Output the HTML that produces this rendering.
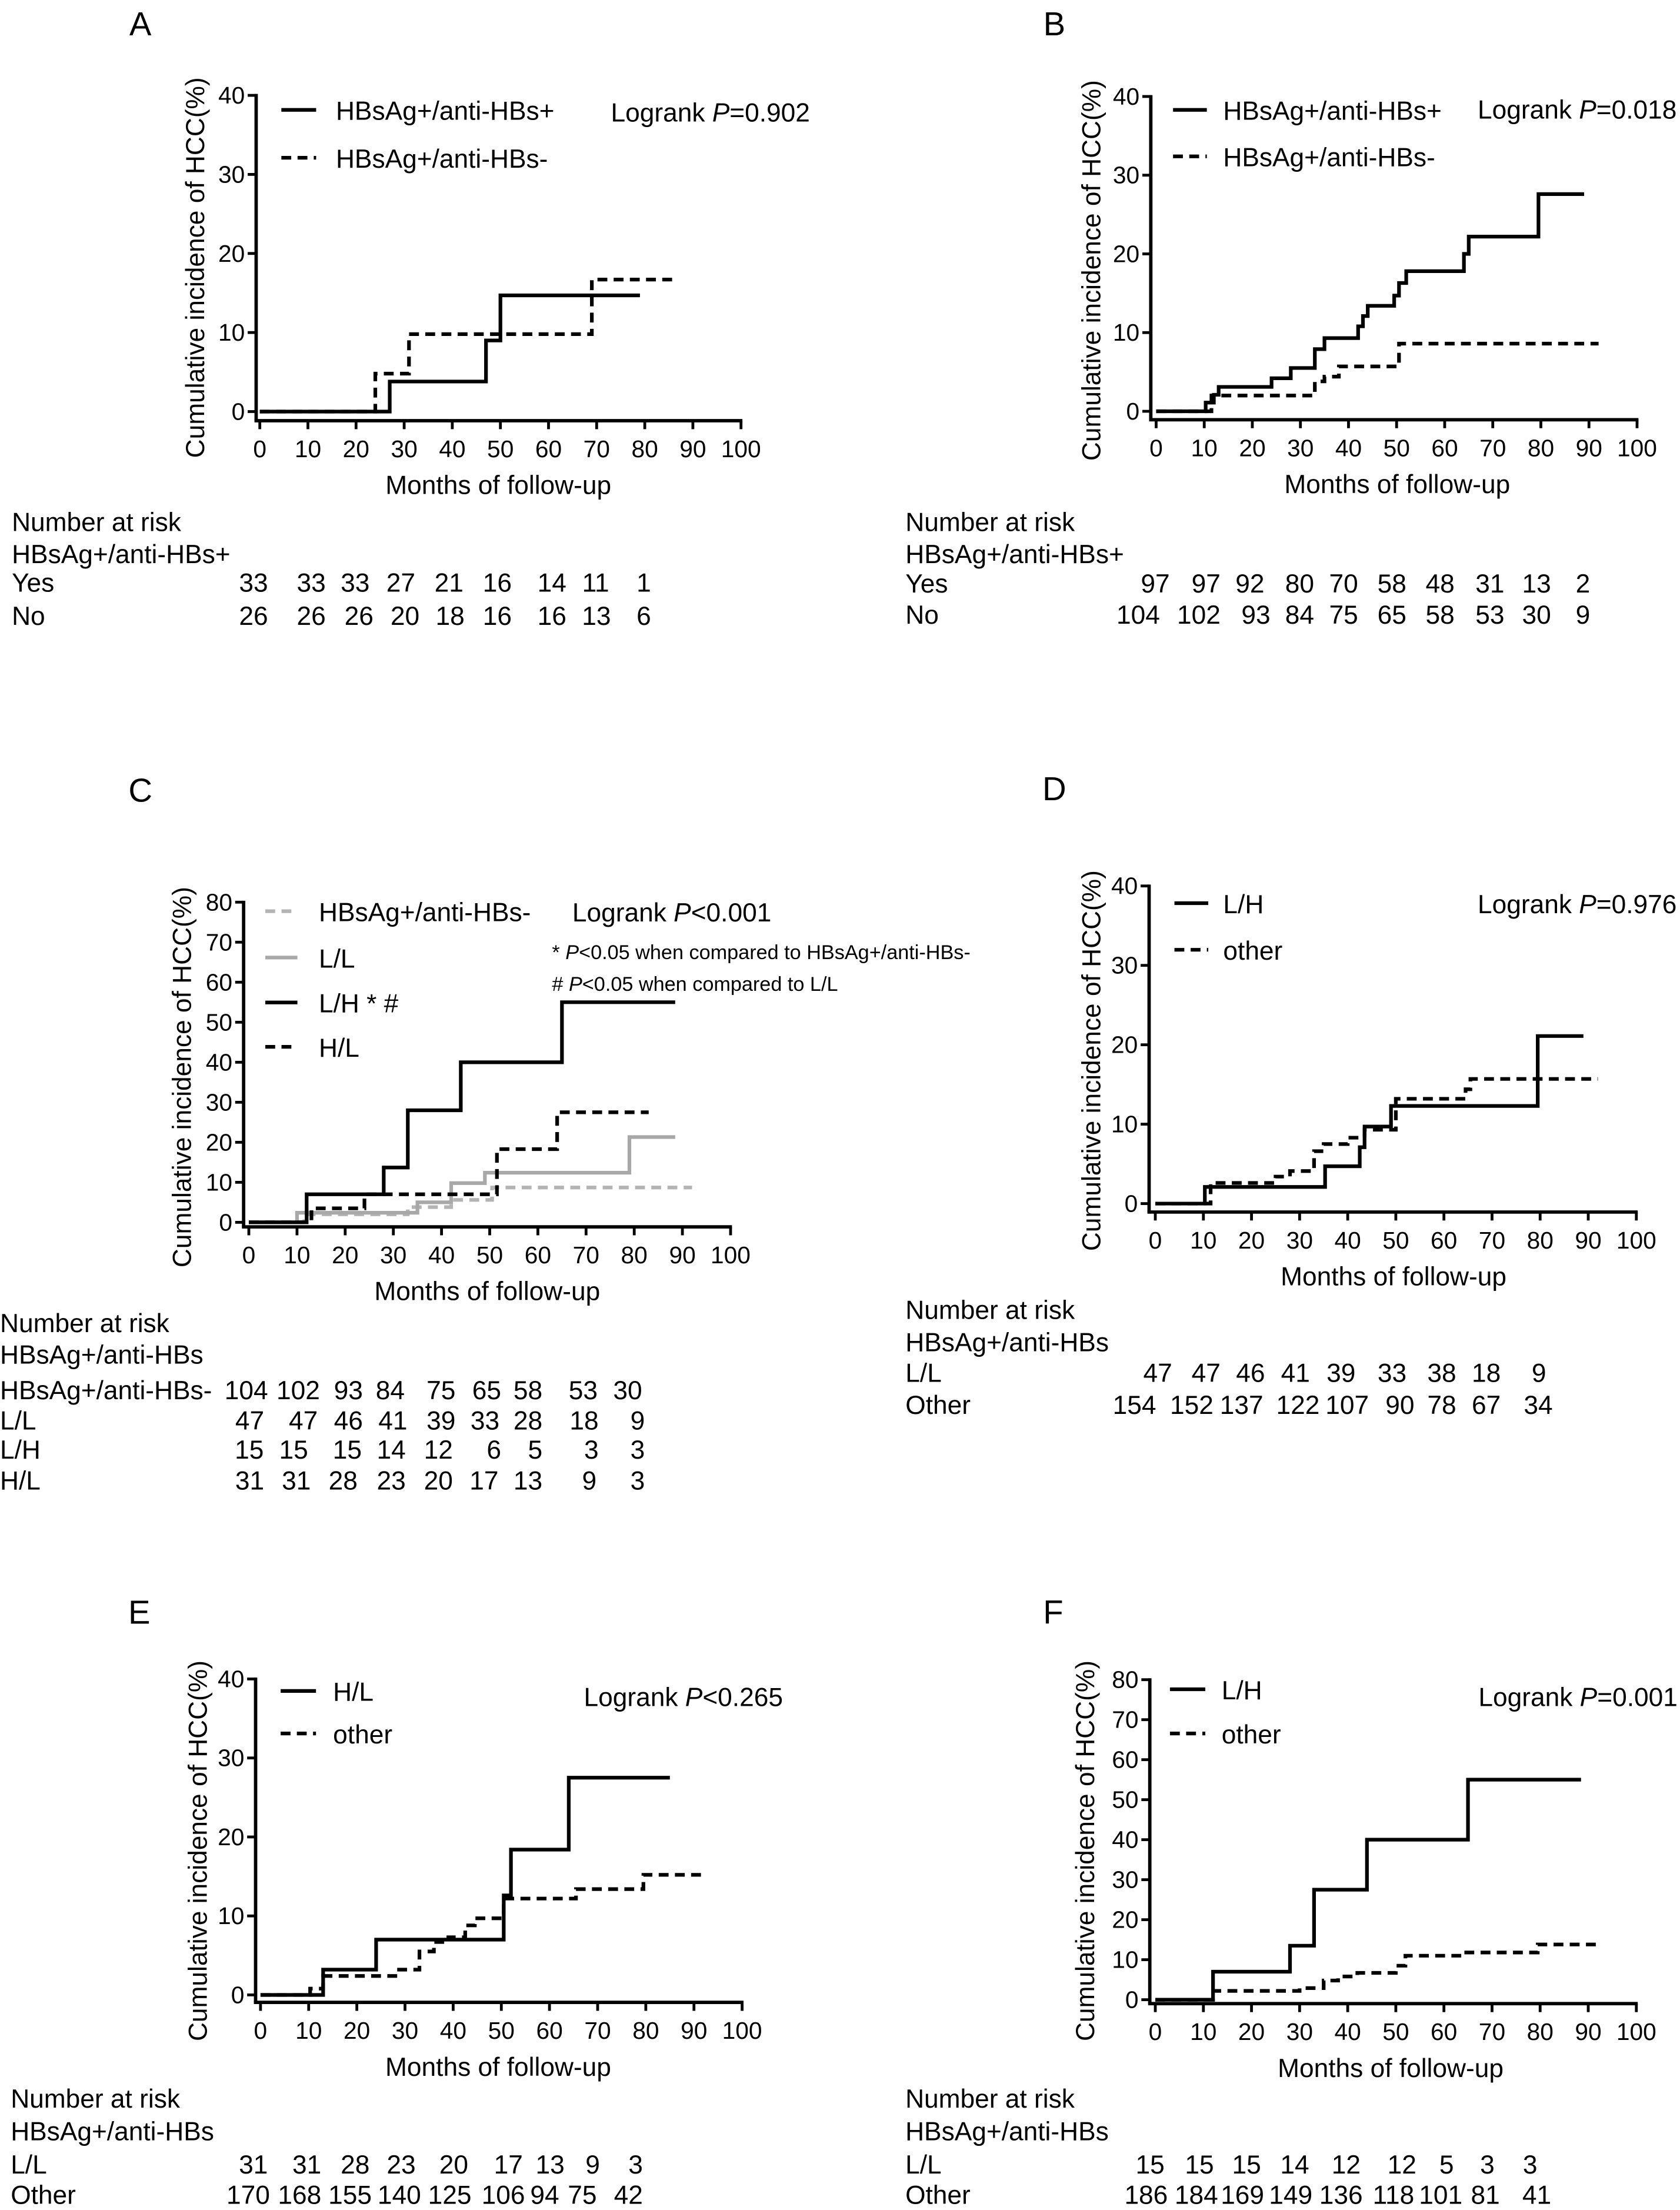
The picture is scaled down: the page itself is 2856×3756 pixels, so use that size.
<!DOCTYPE html>
<html>
<head>
<meta charset="utf-8">
<style>
html,body{margin:0;padding:0;background:#fff;}
svg{display:block;}
text{font-family:"Liberation Sans",Arial,sans-serif;fill:#000;}
</style>
</head>
<body>
<svg id="fig" xmlns="http://www.w3.org/2000/svg" width="2856" height="3756" viewBox="0 0 1193 1569" preserveAspectRatio="none"></svg>
<script>
// ---------- shared axis ticks ----------
const xTickValues = [0,10,20,30,40,50,60,70,80,90,100];
const yTicks40 = [0,10,20,30,40];
const yTicks80 = [0,10,20,30,40,50,60,70,80];
const riskHeader2 = ["HBsAg+/anti-HBs+","HBsAg+/anti-HBs+","HBsAg+/anti-HBs","HBsAg+/anti-HBs","HBsAg+/anti-HBs","HBsAg+/anti-HBs"];

// ---------- Panel A ----------
const A_yes_months = [0,27,47,50,79];
const A_yes_inc    = [0,3.8,9,14.7,14.7];
const A_no_months  = [0,24,31,69,86];
const A_no_inc     = [0,4.8,9.8,16.7,16.7];
const A_risk_yes = [33,33,33,27,21,16,14,11,1];
const A_risk_no  = [26,26,26,20,18,16,16,13,6];

// ---------- Panel B ----------
const B_yes_months = [0,10.3,12,13,24,28,33,35,42,43,44,49.5,50.5,52,64,65,79.5,89];
const B_yes_inc    = [0,1.1,2.1,3.1,4.2,5.5,7.9,9.3,10.8,12.1,13.4,14.7,16.3,17.8,20,22.2,27.6,27.6];
const B_no_months  = [0,11.5,33,35,38,50.5,92];
const B_no_inc     = [0,2.0,3.8,4.4,5.7,8.6,8.6];
const B_risk_yes = [97,97,92,80,70,58,48,31,13,2];
const B_risk_no  = [104,102,93,84,75,65,58,53,30,9];

// ---------- Panel C ----------
const C_neg_months = [0,11.5,33,42,50.5,92];
const C_neg_inc    = [0,2,3.8,5.6,8.7,8.7];
const C_ll_months  = [0,10,35,42,49,79,88.5];
const C_ll_inc     = [0,2.4,5,9.8,12.4,21.3,21.3];
const C_lh_months  = [0,12,28,33,44,65,88.5];
const C_lh_inc     = [0,7,13.7,28,40,55,55];
const C_hl_months  = [0,13,24,51.5,64,83];
const C_hl_inc     = [0,3.5,7,18.3,27.5,27.5];
const C_risk_neg = [104,102,93,84,75,65,58,53,30];
const C_risk_ll  = [47,47,46,41,39,33,28,18,9];
const C_risk_lh  = [15,15,15,14,12,6,5,3,3];
const C_risk_hl  = [31,31,28,23,20,17,13,9,3];

// ---------- Panel D ----------
const D_lh_months = [0,10.3,35.3,42.5,43.5,49,79.5,89];
const D_lh_inc    = [0,2.1,4.7,7.1,9.7,12.3,21.1,21.1];
const D_ot_months = [0,11.5,25,28,33,35,40,43.5,50,64.5,65.5,92];
const D_ot_inc    = [0,2.6,3.4,4.1,6.6,7.5,8.3,9.3,13.2,14.4,15.7,15.7];
const D_risk_ll = [47,47,46,41,39,33,38,18,9];
const D_risk_ot = [154,152,137,122,107,90,78,67,34];

// ---------- Panel E ----------
const E_hl_months = [0,13,24,50.5,52,64,85];
const E_hl_inc    = [0,3.2,7,12.6,18.4,27.5,27.5];
const E_ot_months = [0,10.3,13,28,33,36,39,42.5,44.5,50.5,65.5,79.5,92];
const E_ot_inc    = [0,0.8,2.4,3.2,5.5,6.7,7.3,8.8,9.7,12.2,13.4,15.2,15.2];
const E_risk_ll = [31,31,28,23,20,17,13,9,3];
const E_risk_ot = [170,168,155,140,125,106,94,75,42];

// ---------- Panel F ----------
const F_lh_months = [0,12,28,33,44,65,88.5];
const F_lh_inc    = [0,7,13.5,27.5,40,55,55];
const F_ot_months = [0,12,30,35,38,42,50,52,64,79.5,92];
const F_ot_inc    = [0,2.2,2.9,4.8,5.8,6.7,8.5,11,11.8,13.8,13.8];
const F_risk_ll = [15,15,15,14,12,12,5,3,3];
const F_risk_ot = [186,184,169,149,136,118,101,81,41];

const NS = "http://www.w3.org/2000/svg";
const svg = document.getElementById("fig");

function el(tag, attrs, parent){
  const e = document.createElementNS(NS, tag);
  for (const k in attrs) e.setAttribute(k, attrs[k]);
  (parent || svg).appendChild(e);
  return e;
}
function txt(str, x, y, size, anchor, parent, extra){
  const t = el("text", Object.assign({x:x, y:y, "font-size":size, "text-anchor":anchor||"start", "dominant-baseline":"central"}, extra||{}), parent);
  t.textContent = str;
  return t;
}

const STYLES = {
  solid:  {stroke:"#000", dash:null},
  dashed: {stroke:"#000", dash:"7 4.5"},
  gsolid: {stroke:"#a8a8a8", dash:null},
  gdash:  {stroke:"#b4b4b4", dash:"7 4.5"}
};

function panel(cfg){
  const g = el("g", {});
  
  
  const xs = v => cfg.x0 + (cfg.x100 - cfg.x0) * v / 100;
  const ys = v => cfg.y0 - (cfg.y0 - cfg.yTop) * v / cfg.ymax;

  const letter = txt(cfg.letter, cfg.letterX, cfg.letterY, 23.5, "middle", g);
  
  

  const yAxis = el("line", {x1:cfg.yAx, y1:cfg.yTop-1, x2:cfg.yAx, y2:cfg.xAxY, stroke:"#000", "stroke-width":2.4}, g);
  
  
  const xAxis = el("line", {x1:cfg.yAx-1.2, y1:cfg.xAxY, x2:cfg.x100+1, y2:cfg.xAxY, stroke:"#000", "stroke-width":2.4}, g);
  
  

  cfg.yTicks.forEach(v => {
    const tk = el("line", {x1:cfg.yAx-6, y1:ys(v), x2:cfg.yAx, y2:ys(v), stroke:"#000", "stroke-width":2}, g);
    
    
    const lb = txt(String(v), cfg.yAx-8, ys(v), 17, "end", g);
    
    
  });
  xTickValues.forEach(v => {
    const tk = el("line", {x1:xs(v), y1:cfg.xAxY, x2:xs(v), y2:cfg.xAxY+6, stroke:"#000", "stroke-width":2}, g);
    
    
    const lb = txt(String(v), xs(v), cfg.xAxY+20, 17, "middle", g);
    
    
  });
  const xt = txt("Months of follow-up", cfg.xTitleX, cfg.xAxY+46, 18.5, "middle", g);
  
  
  const yt = txt("Cumulative incidence of HCC(%)", 0, 0, 18.5, "middle", g, {transform:"translate("+cfg.yTitleX+","+cfg.yTitleY+") rotate(-90)"});
  
  

  cfg.series.forEach(s => {
    let d = "M" + xs(s.t[0]).toFixed(2) + " " + ys(s.v[0]).toFixed(2);
    for (let i = 1; i < s.t.length; i++){
      d += " H" + xs(s.t[i]).toFixed(2) + " V" + ys(s.v[i]).toFixed(2);
    }
    const st = STYLES[s.style];
    const p = el("path", {d:d, fill:"none", stroke:st.stroke, "stroke-width":2.6, "stroke-linejoin":"miter"}, g);
    if (st.dash) p.setAttribute("stroke-dasharray", st.dash);
    
    
  });

  cfg.legend.forEach((L, i) => {
    const ly = cfg.legY[i];
    const st = STYLES[L.style];
    const ln = el("line", {x1:cfg.legX1, y1:ly, x2:cfg.legX2, y2:ly, stroke:st.stroke, "stroke-width":2.6}, g);
    if (st.dash) ln.setAttribute("stroke-dasharray", "7 4.5");
    
    
    const lt = txt(L.label, cfg.legTX, ly+1, 18.5, "start", g);
    
    
  });

  const lr = txt("", cfg.lrX, cfg.lrY+1, 18.5, "start", g);
  
  
  const t1 = el("tspan", {}, lr); t1.textContent = "Logrank ";
  const t2 = el("tspan", {"font-style":"italic"}, lr); t2.textContent = "P";
  const t3 = el("tspan", {}, lr); t3.textContent = cfg.lrText;

  const rt = el("g", {}, g);
  
  
  const h1 = txt("Number at risk", cfg.rLeft, cfg.rY[0], 18.5, "start", rt);
  
  
  const h2 = txt(cfg.rHead, cfg.rLeft, cfg.rY[1], 18.5, "start", rt);
  
  
  cfg.rows.forEach((r, i) => {
    const y = cfg.rY[i+2];
    const rl = txt(r.label, cfg.rLeft, y, 18.5, "start", rt);
    
    
    r.vals.forEach((v, j) => {
      const c = txt(String(v), r.right[j], y, 18.5, "end", rt);
      
      
    });
  });
  return g;
}

panel({id:"a", letter:"A", letterX:99.7, letterY:17,
  yAx:181.9, x0:184.5, x100:526.2, y0:292.2, yTop:67.7, ymax:40, xAxY:298.7, yTicks:yTicks40,
  xTitleX:353.9, yTitleX:138.9, yTitleY:190,
  series:[{t:A_yes_months, v:A_yes_inc, style:"solid", name:"curve-anti-hbs-positive"},
          {t:A_no_months, v:A_no_inc, style:"dashed", name:"curve-anti-hbs-negative"}],
  legend:[{label:"HBsAg+/anti-HBs+", style:"solid"},{label:"HBsAg+/anti-HBs-", style:"dashed"}],
  legY:[78,112], legX1:199.8, legX2:224.5, legTX:238.5,
  lrX:433.8, lrY:79, lrText:"=0.902",
  rLeft:8.4, rY:[371,393.8,414,437.6], rHead:riskHeader2[0],
  rows:[{label:"Yes", vals:A_risk_yes, right:[190.3,231.3,262.5,294.9,329.1,363.4,402.2,432.6,462.3]},
        {label:"No",  vals:A_risk_no,  right:[190.3,231.3,265.2,297.9,329.9,363.4,402.2,433.8,462.3]}]
});

panel({id:"b", letter:"B", letterX:748.7, letterY:17,
  yAx:817.2, x0:821, x100:1162.5, y0:292, yTop:68.5, ymax:40, xAxY:298, yTicks:yTicks40,
  xTitleX:992.2, yTitleX:775.3, yTitleY:192,
  series:[{t:B_yes_months, v:B_yes_inc, style:"solid", name:"curve-anti-hbs-positive"},
          {t:B_no_months, v:B_no_inc, style:"dashed", name:"curve-anti-hbs-negative"}],
  legend:[{label:"HBsAg+/anti-HBs+", style:"solid"},{label:"HBsAg+/anti-HBs-", style:"dashed"}],
  legY:[78,111], legX1:833, legX2:857, legTX:868.6,
  lrX:1049.3, lrY:77, lrText:"=0.018",
  rLeft:643, rY:[371,393.8,414.7,436.8], rHead:riskHeader2[1],
  rows:[{label:"Yes", vals:B_risk_yes, right:[830.7,866.7,897.9,933.2,964.4,998.7,1032.9,1068.3,1101.4,1129.2]},
        {label:"No",  vals:B_risk_no,  right:[823.7,866.7,902.1,933.2,964.4,998.7,1032.9,1068.3,1101.4,1129.2]}]
});

panel({id:"c", letter:"C", letterX:99.7, letterY:561,
  yAx:173, x0:176.7, x100:518.8, y0:867.8, yTop:640.5, ymax:80, xAxY:871, yTicks:yTicks80,
  xTitleX:346, yTitleX:129.4, yTitleY:764.7,
  series:[{t:C_neg_months, v:C_neg_inc, style:"gdash", name:"curve-anti-hbs-negative"},
          {t:C_ll_months, v:C_ll_inc, style:"gsolid", name:"curve-l-l"},
          {t:C_hl_months, v:C_hl_inc, style:"dashed", name:"curve-h-l"},
          {t:C_lh_months, v:C_lh_inc, style:"solid", name:"curve-l-h"}],
  legend:[{label:"HBsAg+/anti-HBs-", style:"gdash"},{label:"L/L", style:"gsolid"},
          {label:"L/H * #", style:"solid"},{label:"H/L", style:"dashed"}],
  legY:[646.9,679.8,711.7,743.2], legX1:188.4, legX2:211.2, legTX:226.4,
  lrX:406.4, lrY:646.9, lrText:"<0.001",
  rLeft:0, rY:[939.6,962,987.3,1008.8,1029.6,1051.4], rHead:riskHeader2[2],
  rows:[{label:"HBsAg+/anti-HBs-", vals:C_risk_neg, right:[190.3,227.2,257.7,287.4,323.5,355.9,385.2,424.4,456]},
        {label:"L/L", vals:C_risk_ll, right:[187.6,225.7,257.7,289.3,323.5,354.7,385.2,425.1,457.9]},
        {label:"L/H", vals:C_risk_lh, right:[187.3,218.8,256.9,288.1,321.6,355.9,385.2,425.1,457.9]},
        {label:"H/L", vals:C_risk_hl, right:[187.6,220.7,253.9,288.1,321.6,354,385.2,423.6,457.9]}]
});
const n1 = txt("", 392, 676.3, 14.3, "start");


(function(){ const a=el("tspan",{},n1); a.textContent="* "; const b=el("tspan",{"font-style":"italic"},n1); b.textContent="P"; const c=el("tspan",{},n1); c.textContent="<0.05 when compared to HBsAg+/anti-HBs-"; })();
const n2 = txt("", 392, 698.9, 14.3, "start");


(function(){ const a=el("tspan",{},n2); a.textContent="# "; const b=el("tspan",{"font-style":"italic"},n2); b.textContent="P"; const c=el("tspan",{},n2); c.textContent="<0.05 when compared to L/L"; })();

panel({id:"d", letter:"D", letterX:748.7, letterY:560,
  yAx:816, x0:820.4, x100:1162, y0:854.5, yTop:629, ymax:40, xAxY:860.5, yTicks:yTicks40,
  xTitleX:989.6, yTitleX:775.3, yTitleY:753,
  series:[{t:D_ot_months, v:D_ot_inc, style:"dashed", name:"curve-other"},
          {t:D_lh_months, v:D_lh_inc, style:"solid", name:"curve-l-h"}],
  legend:[{label:"L/H", style:"solid"},{label:"other", style:"dashed"}],
  legY:[641.2,674.3], legX1:834, legX2:858, legTX:868.6,
  lrX:1049.3, lrY:641, lrText:"=0.976",
  rLeft:643, rY:[930.3,953.2,974.9,997.7], rHead:riskHeader2[3],
  rows:[{label:"L/L", vals:D_risk_ll, right:[832.4,866.7,898.3,930.2,962.6,998.8,1034.1,1065.7,1098]},
        {label:"Other", vals:D_risk_ot, right:[821,861.7,897.1,937.1,972.1,1004.4,1034.1,1065.7,1102.6]}]
});

panel({id:"e", letter:"E", letterX:98.9, letterY:1144.5,
  yAx:181.5, x0:185, x100:527, y0:1416.3, yTop:1192, ymax:40, xAxY:1421.6, yTicks:yTicks40,
  xTitleX:353.8, yTitleX:140.7, yTitleY:1314,
  series:[{t:E_ot_months, v:E_ot_inc, style:"dashed", name:"curve-other"},
          {t:E_hl_months, v:E_hl_inc, style:"solid", name:"curve-h-l"}],
  legend:[{label:"H/L", style:"solid"},{label:"other", style:"dashed"}],
  legY:[1200.5,1230.7], legX1:199.3, legX2:224.4, legTX:236.5,
  lrX:414.6, lrY:1203.9, lrText:"<0.265",
  rLeft:7.6, rY:[1490.3,1513.4,1537,1558.6], rHead:riskHeader2[4],
  rows:[{label:"L/L", vals:E_risk_ll, right:[190.2,228.2,262.5,295.2,332.5,371.3,400.9,426,456.5]},
        {label:"Other", vals:E_risk_ot, right:[191.7,228.2,264,299,334.8,372.8,397.1,423.8,456.5]}]
});

panel({id:"f", letter:"F", letterX:747.9, letterY:1144.5,
  yAx:816.5, x0:820.4, x100:1162, y0:1419.7, yTop:1192.5, ymax:80, xAxY:1422.5, yTicks:yTicks80,
  xTitleX:987.5, yTitleX:771, yTitleY:1314,
  series:[{t:F_ot_months, v:F_ot_inc, style:"dashed", name:"curve-other"},
          {t:F_lh_months, v:F_lh_inc, style:"solid", name:"curve-l-h"}],
  legend:[{label:"L/H", style:"solid"},{label:"other", style:"dashed"}],
  legY:[1199.3,1230.7], legX1:830.8, legX2:855.9, legTX:867.5,
  lrX:1049.9, lrY:1203.9, lrText:"=0.001",
  rLeft:642.9, rY:[1490.3,1513.4,1537,1558.6], rHead:riskHeader2[5],
  rows:[{label:"L/L", vals:F_risk_ll, right:[827,862,895.5,929.7,966.2,1005.8,1032.4,1061.3,1091.7]},
        {label:"Other", vals:F_risk_ot, right:[829.3,865,897.7,932,967.7,1004.3,1038.5,1065.1,1101.6]}]
});
</script>
</body>
</html>
